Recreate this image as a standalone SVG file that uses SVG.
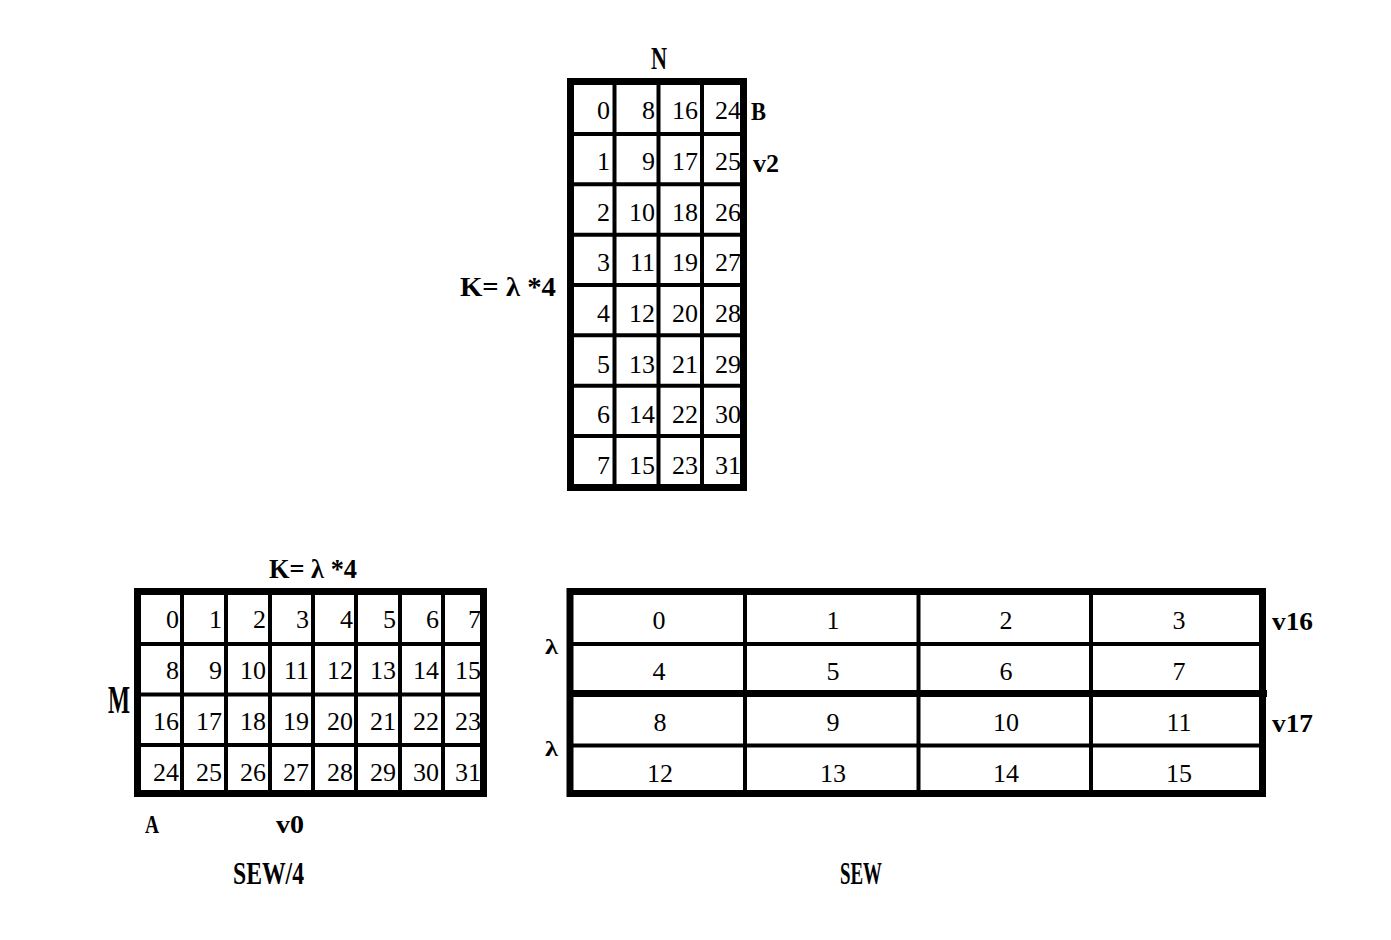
<svg xmlns="http://www.w3.org/2000/svg" width="1391" height="940" viewBox="0 0 1391 940">
<style>
.num{font-family:"Liberation Serif","Times New Roman",serif;font-size:26px;fill:#000;}
.r{text-anchor:end;}
.c{text-anchor:middle;}
.lbl{font-family:"Liberation Serif","Times New Roman",serif;font-weight:bold;fill:#000;}
.outer{fill:none;stroke:#000;stroke-width:7;}
.thin{stroke:#000;stroke-width:4;}
.thick{stroke:#000;stroke-width:7;}
</style>
<rect width="1391" height="940" fill="#fff"/>

<g id="matrix-B">
  <g class="num r">
    <text x="610" y="119">0</text><text x="655" y="119">8</text><text x="698" y="119">16</text><text x="741" y="119">24</text>
    <text x="610" y="170">1</text><text x="655" y="170">9</text><text x="698" y="170">17</text><text x="741" y="170">25</text>
    <text x="610" y="221">2</text><text x="655" y="221">10</text><text x="698" y="221">18</text><text x="741" y="221">26</text>
    <text x="610" y="271">3</text><text x="655" y="271">11</text><text x="698" y="271">19</text><text x="741" y="271">27</text>
    <text x="610" y="322">4</text><text x="655" y="322">12</text><text x="698" y="322">20</text><text x="741" y="322">28</text>
    <text x="610" y="373">5</text><text x="655" y="373">13</text><text x="698" y="373">21</text><text x="741" y="373">29</text>
    <text x="610" y="423">6</text><text x="655" y="423">14</text><text x="698" y="423">22</text><text x="741" y="423">30</text>
    <text x="610" y="474">7</text><text x="655" y="474">15</text><text x="698" y="474">23</text><text x="741" y="474">31</text>
  </g>
  <g class="thin">
    <line x1="570" y1="134" x2="744" y2="134"/>
    <line x1="570" y1="184.3" x2="744" y2="184.3"/>
    <line x1="570" y1="234.7" x2="744" y2="234.7"/>
    <line x1="570" y1="285" x2="744" y2="285"/>
    <line x1="570" y1="335.3" x2="744" y2="335.3"/>
    <line x1="570" y1="385.7" x2="744" y2="385.7"/>
    <line x1="570" y1="436" x2="744" y2="436"/>
    <line x1="614.5" y1="81" x2="614.5" y2="488"/>
    <line x1="658.5" y1="81" x2="658.5" y2="488"/>
    <line x1="702" y1="81" x2="702" y2="488"/>
  </g>
  <rect class="outer" x="570.5" y="81.5" width="173" height="406"/>
  <text class="lbl" x="651" y="69" font-size="32" textLength="16" lengthAdjust="spacingAndGlyphs">N</text>
  <text class="lbl" x="751" y="120" font-size="26" textLength="15" lengthAdjust="spacingAndGlyphs">B</text>
  <text class="lbl" x="753" y="172" font-size="26" textLength="26" lengthAdjust="spacingAndGlyphs">v2</text>
  <text class="lbl" x="460" y="296" font-size="27" textLength="96" lengthAdjust="spacingAndGlyphs">K= λ *4</text>
</g>

<g id="matrix-A">
  <g class="num r">
    <text x="179" y="628">0</text><text x="222" y="628">1</text><text x="266" y="628">2</text><text x="309" y="628">3</text><text x="353" y="628">4</text><text x="396" y="628">5</text><text x="439" y="628">6</text><text x="481" y="628">7</text>
    <text x="179" y="679">8</text><text x="222" y="679">9</text><text x="266" y="679">10</text><text x="309" y="679">11</text><text x="353" y="679">12</text><text x="396" y="679">13</text><text x="439" y="679">14</text><text x="481" y="679">15</text>
    <text x="179" y="730">16</text><text x="222" y="730">17</text><text x="266" y="730">18</text><text x="309" y="730">19</text><text x="353" y="730">20</text><text x="396" y="730">21</text><text x="439" y="730">22</text><text x="481" y="730">23</text>
    <text x="179" y="781">24</text><text x="222" y="781">25</text><text x="266" y="781">26</text><text x="309" y="781">27</text><text x="353" y="781">28</text><text x="396" y="781">29</text><text x="439" y="781">30</text><text x="481" y="781">31</text>
  </g>
  <g class="thin">
    <line x1="137" y1="644" x2="484" y2="644"/>
    <line x1="137" y1="694.5" x2="484" y2="694.5"/>
    <line x1="137" y1="745" x2="484" y2="745"/>
    <line x1="182" y1="591" x2="182" y2="794"/>
    <line x1="226" y1="591" x2="226" y2="794"/>
    <line x1="270" y1="591" x2="270" y2="794"/>
    <line x1="313" y1="591" x2="313" y2="794"/>
    <line x1="356" y1="591" x2="356" y2="794"/>
    <line x1="400" y1="591" x2="400" y2="794"/>
    <line x1="443" y1="591" x2="443" y2="794"/>
  </g>
  <rect class="outer" x="137.5" y="591.5" width="346" height="202"/>
  <text class="lbl" x="269" y="578" font-size="27" textLength="88" lengthAdjust="spacingAndGlyphs">K= λ *4</text>
  <text class="lbl" x="108" y="713" font-size="39" textLength="22" lengthAdjust="spacingAndGlyphs">M</text>
  <text class="lbl" x="145" y="833" font-size="26" textLength="14" lengthAdjust="spacingAndGlyphs">A</text>
  <text class="lbl" x="276" y="833" font-size="25" textLength="28" lengthAdjust="spacingAndGlyphs">v0</text>
  <text class="lbl" x="233" y="884" font-size="31" textLength="71" lengthAdjust="spacingAndGlyphs">SEW/4</text>
</g>

<g id="matrix-SEW">
  <g class="num c">
    <text x="659" y="629">0</text><text x="833" y="629">1</text><text x="1006" y="629">2</text><text x="1179" y="629">3</text>
    <text x="659" y="680">4</text><text x="833" y="680">5</text><text x="1006" y="680">6</text><text x="1179" y="680">7</text>
    <text x="660" y="731">8</text><text x="833" y="731">9</text><text x="1006" y="731">10</text><text x="1179" y="731">11</text>
    <text x="660" y="782">12</text><text x="833" y="782">13</text><text x="1006" y="782">14</text><text x="1179" y="782">15</text>
  </g>
  <g class="thin">
    <line x1="570" y1="644" x2="1262" y2="644"/>
    <line x1="570" y1="745.5" x2="1262" y2="745.5"/>
    <line x1="745" y1="591" x2="745" y2="794"/>
    <line x1="918.5" y1="591" x2="918.5" y2="794"/>
    <line x1="1091" y1="591" x2="1091" y2="794"/>
  </g>
  <line class="thick" x1="567" y1="693.5" x2="1267" y2="693.5"/>
  <rect class="outer" x="570" y="591.5" width="692.5" height="202"/>
  <text class="lbl" x="545" y="654" font-size="21" textLength="13" lengthAdjust="spacingAndGlyphs">λ</text>
  <text class="lbl" x="545" y="756" font-size="21" textLength="13" lengthAdjust="spacingAndGlyphs">λ</text>
  <text class="lbl" x="1272" y="630" font-size="26" textLength="41" lengthAdjust="spacingAndGlyphs">v16</text>
  <text class="lbl" x="1272" y="732" font-size="26" textLength="41" lengthAdjust="spacingAndGlyphs">v17</text>
  <text class="lbl" x="840" y="884" font-size="31" textLength="42" lengthAdjust="spacingAndGlyphs">SEW</text>
</g>

<g id="connectors"></g>
</svg>
